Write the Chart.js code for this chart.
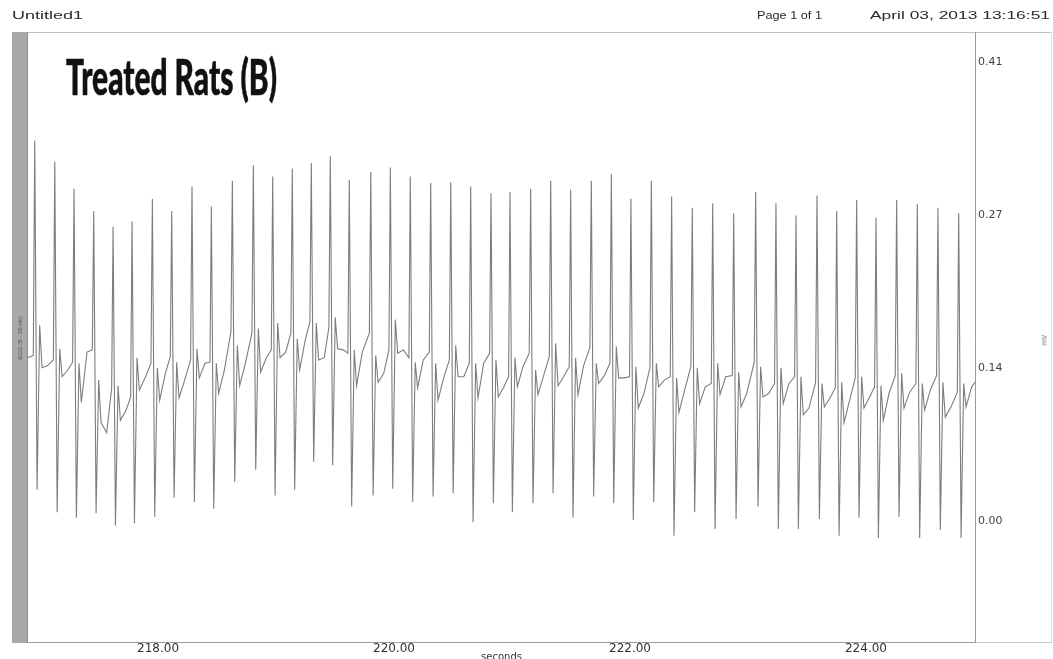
<!DOCTYPE html>
<html>
<head>
<meta charset="utf-8">
<title>Untitled1</title>
<script src="https://cdn.jsdelivr.net/npm/chart.js@4.4.0/dist/chart.umd.min.js"></script>
<style>
  html, body { margin: 0; padding: 0; background: #fff; }
  #page { position: relative; width: 1053px; height: 659px; overflow: hidden; font-family: "Liberation Sans", Arial, sans-serif; }
  #frame { position: absolute; left: 12px; top: 32px; width: 1040px; height: 611px; box-sizing: border-box;
           border-top: 1px solid #c2c2c2; border-bottom: 1px solid #c8c8c8; border-right: 1px solid #e2e2e2; }
  #sidebar { position: absolute; left: 12px; top: 32px; width: 16px; height: 611px; box-sizing: border-box;
             background: #a9a9a9; border-right: 1px solid #8c8c8c; }
  canvas#ecg { position: absolute; left: 0; top: 0; }
  .hdr { position: absolute; top: 10px; font-size: 10px; line-height: 12px; color: #2a2a2a; white-space: nowrap; transform-origin: left top; }
  #title { position: absolute; left: 66px; top: 51px; font-family: Lato, "Open Sans", sans-serif; font-weight: 900;
           font-size: 50px; line-height: 50px; color: #111; white-space: nowrap; transform-origin: left top;
           -webkit-text-stroke: 0.6px #111; }
  .rot { position: absolute; white-space: nowrap; transform: translate(-50%, -50%) rotate(-90deg); color: #555; }
</style>
</head>
<body>
<div id="page">
  <div id="frame"></div>
  <div id="sidebar"></div>
  <canvas id="ecg" width="1053" height="663"></canvas>
  <div class="hdr" id="hLeft" style="left:12px">Untitled1</div>
  <div class="hdr" id="hPage" style="left:757px">Page 1 of 1</div>
  <div class="hdr" id="hDate" style="left:870px">April 03, 2013 13:16:51</div>
  <div id="title">Treated Rats (B)</div>
  <div class="rot" style="left:20px; top:338px; font-size:6px; color:#4a4a4a">ECG (5 - 35 Hz)</div>
  <div class="rot" style="left:1044px; top:340px; font-size:7px; color:#666">mV</div>
</div>
<script>
// beat times (s) and the levels (mV) of each beat's waveform landmarks
const beatTimes = [216.955, 217.125, 217.288, 217.455, 217.619, 217.780, 217.952, 218.116, 218.288, 218.452,
                   218.630, 218.808, 218.972, 219.138, 219.299, 219.460, 219.621, 219.803, 219.969, 220.138,
                   220.311, 220.481, 220.650, 220.822, 220.983, 221.158, 221.328, 221.497, 221.672, 221.842,
                   222.008, 222.181, 222.353, 222.528, 222.701, 222.879, 223.065, 223.237, 223.407, 223.585,
                   223.752, 223.921, 224.085, 224.260, 224.435, 224.610, 224.786];
const preR = [0.148, 0.144, 0.142, 0.153, 0.119, 0.111, 0.141, 0.147, 0.144, 0.142,
              0.169, 0.168, 0.153, 0.168, 0.178, 0.173, 0.150, 0.168, 0.153, 0.146,
              0.151, 0.144, 0.141, 0.150, 0.129, 0.150, 0.147, 0.138, 0.155, 0.141,
              0.129, 0.137, 0.129, 0.138, 0.123, 0.130, 0.142, 0.123, 0.129, 0.124,
              0.119, 0.128, 0.120, 0.130, 0.123, 0.130, 0.115];
const rPeaks = [0.340, 0.321, 0.297, 0.277, 0.263, 0.268, 0.288, 0.277, 0.299, 0.281,
                0.304, 0.318, 0.308, 0.315, 0.320, 0.326, 0.305, 0.312, 0.316, 0.308,
                0.302, 0.303, 0.299, 0.293, 0.294, 0.297, 0.304, 0.296, 0.304, 0.310,
                0.288, 0.304, 0.290, 0.280, 0.284, 0.275, 0.294, 0.284, 0.273, 0.291,
                0.277, 0.287, 0.271, 0.287, 0.283, 0.280, 0.275];
const sTroughs = [0.028, 0.008, 0.003, 0.007, -0.004, -0.002, 0.004, 0.021, 0.017, 0.011,
                  0.035, 0.046, 0.023, 0.028, 0.053, 0.050, 0.013, 0.023, 0.029, 0.017,
                  0.022, 0.025, -0.001, 0.016, 0.008, 0.016, 0.025, 0.003, 0.022, 0.016,
                  0.001, 0.017, -0.013, 0.008, -0.007, 0.002, 0.013, -0.007, -0.007, 0.002,
                  -0.013, 0.003, -0.015, 0.004, -0.015, -0.008, -0.015];
const jPoints = [0.175, 0.154, 0.141, 0.126, 0.121, 0.146, 0.137, 0.142, 0.154, 0.141,
                 0.157, 0.172, 0.177, 0.163, 0.177, 0.182, 0.153, 0.148, 0.180, 0.142,
                 0.141, 0.157, 0.141, 0.144, 0.146, 0.135, 0.159, 0.146, 0.141, 0.156,
                 0.138, 0.141, 0.128, 0.137, 0.141, 0.133, 0.138, 0.137, 0.129, 0.123,
                 0.124, 0.129, 0.121, 0.132, 0.123, 0.124, 0.123];
const stDips = [0.137, 0.129, 0.106, 0.088, 0.090, 0.117, 0.108, 0.110, 0.128, 0.114,
                0.121, 0.133, 0.146, 0.135, 0.144, 0.154, 0.121, 0.124, 0.150, 0.119,
                0.108, 0.129, 0.110, 0.111, 0.120, 0.113, 0.121, 0.113, 0.123, 0.128,
                0.101, 0.120, 0.097, 0.105, 0.113, 0.102, 0.111, 0.105, 0.095, 0.102,
                0.088, 0.101, 0.090, 0.101, 0.099, 0.093, 0.102];
const tWaves = [0.139, 0.135, 0.151, 0.079, 0.099, 0.128, 0.132, 0.126, 0.141, 0.135,
                0.141, 0.146, 0.151, 0.162, 0.146, 0.153, 0.151, 0.132, 0.153, 0.144,
                0.128, 0.129, 0.141, 0.120, 0.138, 0.130, 0.129, 0.139, 0.130, 0.128,
                0.114, 0.126, 0.117, 0.120, 0.129, 0.114, 0.114, 0.123, 0.101, 0.110,
                0.108, 0.111, 0.114, 0.115, 0.117, 0.102, 0.120];
const traceStart = [216.898, 0.146];
const traceEnd = [224.924, 0.124];

const xTickValues = [218, 220, 222, 224];
const yTickValues = [0, 0.1367, 0.2733, 0.41];

// one sample per landmark: pre-R, R, S, J, ST dip, T
const trace = [{ x: traceStart[0], y: traceStart[1] }];
beatTimes.forEach((t, i) => {
  trace.push({ x: t - 0.012, y: preR[i] });
  trace.push({ x: t, y: rPeaks[i] });
  trace.push({ x: t + 0.02, y: sTroughs[i] });
  trace.push({ x: t + 0.042, y: jPoints[i] });
  trace.push({ x: t + 0.062, y: stDips[i] });
  trace.push({ x: t + 0.11, y: tWaves[i] });
});
trace.push({ x: traceEnd[0], y: traceEnd[1] });

new Chart(document.getElementById('ecg'), {
  type: 'line',
  data: {
    datasets: [{
      data: trace,
      borderColor: '#7d7d7d',
      borderWidth: 1.1,
      pointRadius: 0,
      tension: 0,
      fill: false
    }]
  },
  options: {
    responsive: false,
    animation: false,
    events: [],
    layout: { padding: { left: 28, top: 32, right: 0, bottom: 0 } },
    plugins: { legend: { display: false }, tooltip: { enabled: false } },
    scales: {
      x: {
        type: 'linear',
        min: 216.898,
        max: 224.924,
        afterBuildTicks: scale => { scale.ticks = xTickValues.map(v => ({ value: v })); },
        afterFit: scale => { scale.height = 21; },
        grid: { display: false, drawTicks: false },
        border: { display: true, color: '#9c9c9c' },
        ticks: { padding: 0, color: '#333', font: { family: '"DejaVu Sans", sans-serif', size: 12 },
                 callback: v => v.toFixed(2), maxRotation: 0 },
        title: { display: true, text: 'seconds', color: '#333', padding: 0,
                 font: { family: '"DejaVu Sans", sans-serif', size: 10 } }
      },
      y: {
        position: 'right',
        min: -0.108,
        max: 0.437,
        afterBuildTicks: scale => { scale.ticks = yTickValues.map(v => ({ value: v })); },
        afterFit: scale => { scale.width = 78; },
        grid: { display: false, drawTicks: false },
        border: { display: true, color: '#9a9a9a' },
        ticks: { padding: 3, color: '#444', font: { family: '"DejaVu Sans", sans-serif', size: 11 },
                 callback: v => v.toFixed(2) }
      }
    }
  }
});

// stretch header and title text to their printed widths
function fitWidth(id, w) {
  const el = document.getElementById(id);
  const natural = el.getBoundingClientRect().width;
  el.style.transform = 'scaleX(' + (w / natural) + ')';
}
document.fonts.ready.then(() => {
  fitWidth('hLeft', 71);
  fitWidth('hPage', 65);
  fitWidth('hDate', 180);
  fitWidth('title', 211);
});
</script>
</body>
</html>
